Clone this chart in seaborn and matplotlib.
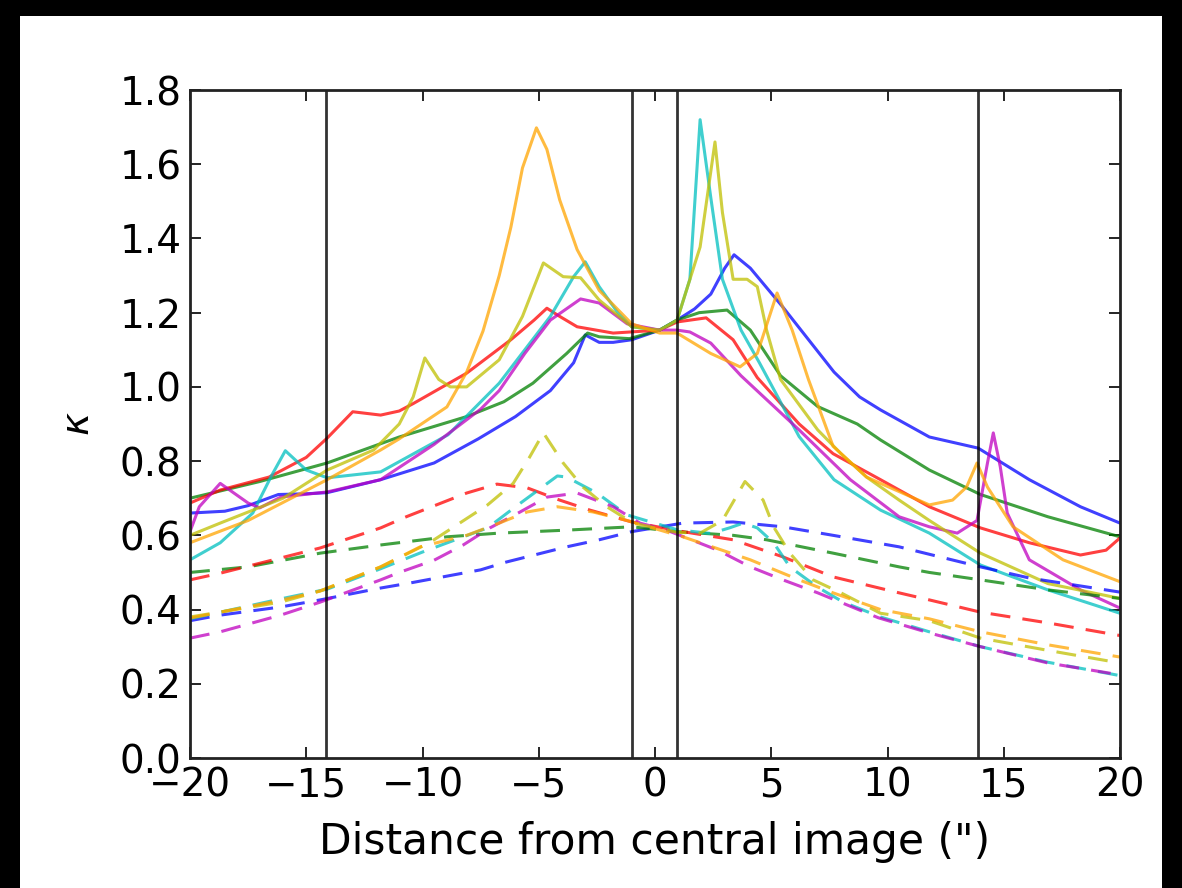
import matplotlib
matplotlib.use("Agg")
import matplotlib.pyplot as plt
import seaborn as sns
from matplotlib.patches import Rectangle

# ---------------- data ----------------
colors = {"blue": "#0000ff", "green": "#008000", "red": "#ff0000", "cyan": "#00bfbf",
          "magenta": "#bf00bf", "olive": "#bfbf00", "orange": "#ffa500"}

# solid curves
blue_x = [-20, -18.5, -17.5, -16.2, -15, -14.1, -11.8, -9.5, -7.6, -6, -4.5, -3.5, -3.0, -2.4, -1.8, -1.0, 0.2, 0.95, 1.7, 2.4, 3.0, 3.4, 4.1, 5.5, 7.7, 8.8, 9.7, 11.8, 13.9, 16.1, 18.3, 20]
blue_y = [0.66, 0.665, 0.68, 0.71, 0.712, 0.715, 0.75, 0.795, 0.86, 0.92, 0.99, 1.065, 1.14, 1.12, 1.12, 1.127, 1.153, 1.18, 1.21, 1.25, 1.32, 1.356, 1.32, 1.215, 1.04, 0.973, 0.938, 0.865, 0.835, 0.75, 0.677, 0.633]

green_x = [-20, -17, -14.1, -11, -8.1, -6.5, -5.25, -3.8, -2.9, -2.4, -1.1, 0.2, 0.95, 1.9, 3.1, 4.1, 5.4, 7.0, 8.7, 9.7, 11.8, 14, 16.9, 20]
green_y = [0.70, 0.745, 0.795, 0.865, 0.92, 0.96, 1.01, 1.09, 1.145, 1.135, 1.13, 1.153, 1.18, 1.20, 1.207, 1.153, 1.03, 0.947, 0.90, 0.857, 0.776, 0.71, 0.65, 0.596]

red_x = [-20, -18.7, -16.6, -15, -14.1, -13.0, -11.8, -11, -10.4, -8.1, -6.2, -5.2, -4.65, -4.1, -3.35, -1.8, 0.2, 0.95, 2.2, 3.36, 4.4, 6.2, 7.66, 9.7, 11.8, 14, 16.1, 18.3, 19.4, 20]
red_y = [0.687, 0.722, 0.757, 0.81, 0.862, 0.933, 0.924, 0.935, 0.955, 1.037, 1.127, 1.18, 1.212, 1.19, 1.162, 1.145, 1.153, 1.175, 1.186, 1.127, 1.025, 0.90, 0.82, 0.75, 0.677, 0.62, 0.58, 0.547, 0.56, 0.593]

cyan_x = [-20, -18.7, -17.3, -16.5, -15.9, -15, -14.1, -11.8, -8.9, -6.7, -4.5, -3.5, -3.0, -2.4, -1.6, -1.0, 0.2, 0.95, 1.5, 1.94, 2.4, 2.9, 3.7, 4.5, 6.2, 7.7, 9.7, 11.8, 14, 16.9, 20]
cyan_y = [0.534, 0.58, 0.66, 0.76, 0.828, 0.776, 0.755, 0.771, 0.871, 1.01, 1.19, 1.297, 1.337, 1.27, 1.2, 1.162, 1.153, 1.18, 1.29, 1.72, 1.51, 1.29, 1.153, 1.064, 0.866, 0.75, 0.668, 0.606, 0.52, 0.453, 0.39]

magenta_x = [-20, -19.6, -18.7, -17.5, -17, -16.1, -14.1, -11.8, -9.5, -7.5, -6.7, -5.6, -4.5, -3.2, -2.4, -1.2, 0.2, 0.95, 1.5, 2.4, 3.7, 6.2, 8.4, 10.5, 11.8, 13.0, 13.85, 14.3, 14.55, 14.85, 15.15, 16.1, 18.3, 20]
magenta_y = [0.61, 0.677, 0.74, 0.687, 0.674, 0.703, 0.717, 0.75, 0.845, 0.94, 0.99, 1.09, 1.18, 1.237, 1.226, 1.17, 1.153, 1.153, 1.148, 1.118, 1.03, 0.884, 0.75, 0.65, 0.623, 0.606, 0.64, 0.795, 0.876, 0.785, 0.66, 0.534, 0.453, 0.404]

olive_x = [-20, -18.7, -16, -14.1, -12.1, -11, -10.4, -9.9, -9.3, -8.8, -8.1, -6.7, -5.7, -4.8, -3.95, -3.2, -2.4, -1.0, 0.2, 0.95, 1.94, 2.58, 2.9, 3.36, 3.96, 4.4, 4.8, 5.4, 7.0, 8.0, 9.1, 10.5, 11.8, 14, 16.9, 20]
olive_y = [0.60, 0.633, 0.70, 0.776, 0.83, 0.90, 0.973, 1.078, 1.02, 1.0, 1.0, 1.073, 1.19, 1.334, 1.297, 1.294, 1.234, 1.162, 1.153, 1.18, 1.377, 1.66, 1.47, 1.29, 1.29, 1.27, 1.153, 1.02, 0.884, 0.82, 0.757, 0.695, 0.64, 0.552, 0.47, 0.43]

orange_x = [-20, -17.5, -14.1, -11.8, -11, -8.95, -8.1, -7.4, -6.7, -6.2, -5.7, -5.1, -4.65, -4.1, -3.35, -2.4, -1.0, 0.2, 0.95, 2.4, 3.66, 4.4, 5.25, 5.9, 6.6, 7.66, 9.1, 9.7, 11.8, 12.8, 13.4, 13.85, 14.3, 15.4, 17.55, 20]
orange_y = [0.58, 0.64, 0.75, 0.83, 0.86, 0.946, 1.04, 1.15, 1.30, 1.43, 1.59, 1.698, 1.64, 1.504, 1.37, 1.26, 1.17, 1.145, 1.145, 1.09, 1.054, 1.09, 1.253, 1.153, 1.02, 0.84, 0.757, 0.74, 0.682, 0.695, 0.73, 0.795, 0.73, 0.623, 0.534, 0.475]

# dashed curves
blue_d_x = [-20, -18.7, -16.1, -14.4, -11.8, -10.5, -7.5, -6.4, -3.8, -2.4, -1.0, 1.2, 3.36, 5.5, 7.66, 10.5, 14, 16.1, 20]
blue_d_y = [0.37, 0.385, 0.407, 0.426, 0.458, 0.472, 0.507, 0.528, 0.569, 0.588, 0.61, 0.633, 0.636, 0.623, 0.60, 0.569, 0.515, 0.485, 0.447]

green_d_x = [-20, -17.5, -14.4, -11.8, -8.95, -6.7, -3.8, -1.0, 0.95, 3.36, 4.8, 7.66, 10.5, 11.8, 14, 16.9, 20]
green_d_y = [0.50, 0.515, 0.552, 0.574, 0.596, 0.606, 0.614, 0.623, 0.61, 0.60, 0.588, 0.552, 0.515, 0.50, 0.48, 0.453, 0.43]

red_d_x = [-20, -18.7, -16.1, -14.4, -11.8, -10.7, -8.1, -6.8, -5.5, -4.1, -2.8, -1.0, 1.2, 3.36, 5.5, 7.66, 10.5, 11.8, 14, 16.9, 20]
red_d_y = [0.48, 0.498, 0.539, 0.566, 0.62, 0.65, 0.714, 0.738, 0.728, 0.695, 0.668, 0.636, 0.61, 0.588, 0.542, 0.488, 0.445, 0.426, 0.393, 0.364, 0.33]

cyan_d_x = [-20, -16, -14.1, -11.8, -10, -8.5, -7.2, -6.0, -4.85, -4.2, -3.8, -2.5, -1.2, 0.95, 2.4, 3.2, 3.8, 4.4, 5.1, 5.8, 7.0, 8.1, 9.7, 11.8, 14, 16.9, 20]
cyan_d_y = [0.375, 0.43, 0.455, 0.51, 0.555, 0.59, 0.62, 0.677, 0.73, 0.76, 0.757, 0.714, 0.655, 0.615, 0.605, 0.62, 0.633, 0.62, 0.58, 0.515, 0.46, 0.42, 0.38, 0.34, 0.30, 0.258, 0.222]

magenta_d_x = [-20, -18.7, -16.1, -14.4, -11.8, -11, -9.5, -8.25, -7.1, -5.8, -4.65, -3.35, -1.8, -0.65, 0.5, 2.7, 4.1, 5.5, 7.0, 9.6, 11.8, 14, 16.9, 20]
magenta_d_y = [0.323, 0.34, 0.385, 0.42, 0.48, 0.50, 0.533, 0.574, 0.62, 0.663, 0.703, 0.714, 0.677, 0.633, 0.614, 0.56, 0.515, 0.48, 0.445, 0.378, 0.337, 0.30, 0.256, 0.224]

olive_d_x = [-20, -16.1, -14.4, -11.8, -9.7, -8.4, -7.2, -6.1, -5.4, -4.8, -3.95, -3.1, -2.07, -0.95, 0.95, 1.94, 2.9, 3.87, 4.65, 5.1, 5.8, 6.8, 8.0, 9.7, 11.8, 14, 16.9, 20]
olive_d_y = [0.38, 0.42, 0.45, 0.515, 0.58, 0.633, 0.682, 0.74, 0.81, 0.876, 0.795, 0.73, 0.677, 0.633, 0.608, 0.606, 0.64, 0.745, 0.695, 0.623, 0.552, 0.48, 0.445, 0.39, 0.37, 0.323, 0.29, 0.256]

orange_d_x = [-20, -16.1, -14.4, -11.8, -10.1, -8.1, -6.7, -5.5, -4.2, -2.67, -1.2, 1.2, 4.1, 6.2, 7.66, 9.7, 11.8, 14, 16.9, 20]
orange_d_y = [0.377, 0.425, 0.45, 0.515, 0.569, 0.60, 0.633, 0.663, 0.677, 0.663, 0.64, 0.596, 0.534, 0.48, 0.445, 0.40, 0.375, 0.34, 0.305, 0.272]

vline_x = [-14.15, -1.0, 0.95, 13.9]

x_ticks = [-20, -15, -10, -5, 0, 5, 10, 15, 20]
y_ticks = [0.0, 0.2, 0.4, 0.6, 0.8, 1.0, 1.2, 1.4, 1.6, 1.8]
x_label = 'Distance from central image (")'
y_label = r'$\kappa$'

solid = [("blue", blue_x, blue_y), ("green", green_x, green_y), ("red", red_x, red_y),
         ("cyan", cyan_x, cyan_y), ("magenta", magenta_x, magenta_y),
         ("olive", olive_x, olive_y), ("orange", orange_x, orange_y)]
dashed = [("blue", blue_d_x, blue_d_y), ("green", green_d_x, green_d_y), ("red", red_d_x, red_d_y),
          ("cyan", cyan_d_x, cyan_d_y), ("magenta", magenta_d_x, magenta_d_y),
          ("olive", olive_d_x, olive_d_y), ("orange", orange_d_x, orange_d_y)]

# ---------------- styling ----------------
sns.set_style("ticks")
plt.rcParams['font.family'] = ['DejaVu Sans']
plt.rcParams['mathtext.fontset'] = 'dejavusans'
plt.rcParams['text.color'] = 'black'
plt.rcParams['axes.labelcolor'] = 'black'

W, H = 1182, 888
fig = plt.figure(figsize=(W / 100, H / 100), dpi=100, facecolor="black")
fig.patches.append(Rectangle((20 / W, 0), (1162 - 20) / W, (H - 16) / H,
                             transform=fig.transFigure, facecolor="white",
                             edgecolor="none", zorder=-5))
ax = fig.add_axes([190 / W, 1 - 758 / H, (1120 - 190) / W, (758 - 90) / H])
ax.set_facecolor("white")

for name, xs, ys in solid:
    sns.lineplot(x=xs, y=ys, ax=ax, color=colors[name], lw=2.2, alpha=0.75,
                 sort=False, estimator=None)
for name, xs, ys in dashed:
    sns.lineplot(x=xs, y=ys, ax=ax, color=colors[name], lw=2.2, alpha=0.75,
                 sort=False, estimator=None, linestyle=(0, (6.5, 4)))
for xv in vline_x:
    ax.axvline(xv, color="black", lw=2.0, alpha=0.8)

ax.set_xlim(-20, 20)
ax.set_ylim(0, 1.8)
ax.set_xticks(x_ticks)
ax.set_xticklabels([("\u2212" if v < 0 else "") + str(abs(v)) for v in x_ticks])
ax.set_yticks(y_ticks)
ax.set_yticklabels([f"{v:.1f}" for v in y_ticks])
ax.tick_params(direction="in", length=8, width=1.2, labelsize=28, pad=6,
               top=True, right=True, colors="black", labelcolor="black")
for sp in ax.spines.values():
    sp.set_visible(True)
    sp.set_color("#222222")
    sp.set_linewidth(2.0)
ax.set_xlabel(x_label, fontsize=30.5, labelpad=12, color="black")
ax.set_ylabel(y_label, fontsize=28, labelpad=16, color="black")

fig.savefig("out.png", dpi=100, facecolor=fig.get_facecolor())
